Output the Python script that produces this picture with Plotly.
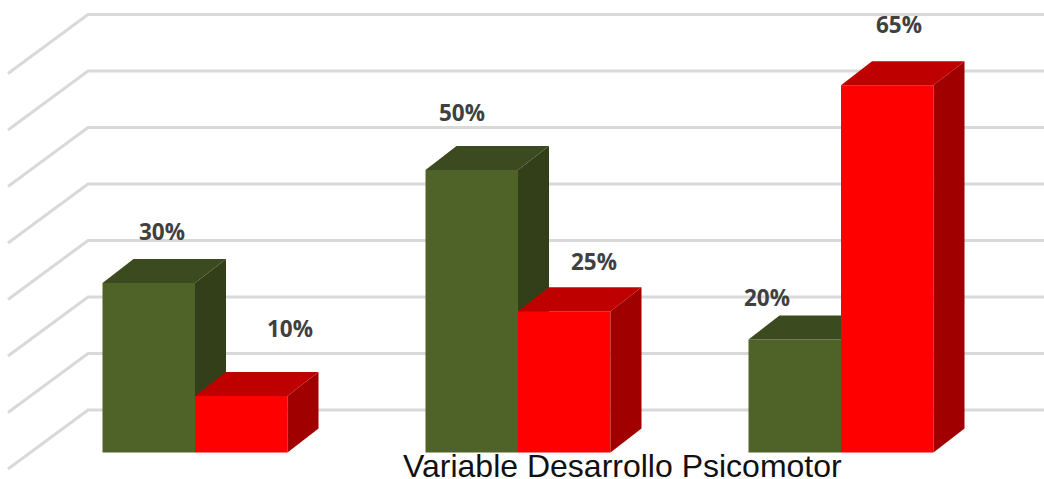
import plotly.graph_objects as go

categories = ["Grupo 1", "Grupo 2", "Grupo 3"]
green_values = [30, 50, 20]
red_values = [10, 25, 65]
grid_values = [0, 10, 20, 30, 40, 50, 60, 70]
labels_green = ["30%", "50%", "20%"]
labels_red = ["10%", "25%", "65%"]

W, H = 1044, 479
PX = 5.65            # pixels per percentage point
Y0 = 452.5           # pixel row of the zero line
centers = [195, 518, 841]
BW = 92.5
DX, DY = 31, 24 / PX  # bar depth
WX, WY = 80, 59 / PX  # wall depth
BACK = 42.5 / PX

yr = [(Y0 - H) / PX, Y0 / PX]
fig = go.Figure()

# grid
for g in grid_values:
    yb = g + BACK
    fig.add_trace(go.Scatter(x=[8, 88, W], y=[yb - WY, yb, yb], mode="lines",
                             line=dict(color="#d9d9d9", width=3), hoverinfo="skip", showlegend=False))


def series(vals, off, front, top, side, ax, name):
    xs = [c + off for c in centers]
    fig.add_trace(go.Bar(x=xs, y=vals, width=BW, marker=dict(color=front, line_width=0), name=name,
                         xaxis=f"x{ax}", yaxis=f"y{ax}", showlegend=False))
    for x, v in zip(xs, vals):
        l, r = x - BW / 2, x + BW / 2
        fig.add_trace(go.Scatter(x=[r, r + DX, r + DX, r, r], y=[0, DY, v + DY, v, 0], fill="toself", mode="none",
                                 fillcolor=side, xaxis=f"x{ax}", yaxis=f"y{ax}", showlegend=False, hoverinfo="skip"))
        fig.add_trace(go.Scatter(x=[l, l + DX, r + DX, r, l], y=[v, v + DY, v + DY, v, v], fill="toself", mode="none",
                                 fillcolor=top, xaxis=f"x{ax}", yaxis=f"y{ax}", showlegend=False, hoverinfo="skip"))


series(green_values, -BW / 2, "#4f6228", "#3c4b1f", "#323f18", 2, "Verde")
series(red_values, BW / 2, "#ff0000", "#bf0000", "#a00000", 3, "Rojo")

# labels
lab_x = [162, 462, 767, 290, 594, 899]
lab_y = [39.1, 60.25, 27.5, 21.9, 33.75, 75.8]
for x, y, t in zip(lab_x, lab_y, labels_green + labels_red):
    fig.add_annotation(x=x, y=y, text=f"<b>{t}</b>", showarrow=False,
                       font=dict(family="Open Sans", size=22.5, color="#404040"))
fig.add_annotation(x=622, y=(Y0 - 465) / PX, text="Variable Desarrollo Psicomotor", showarrow=False, height=27,
                   font=dict(family="Liberation Sans", size=32, color="#111111"))

ax = dict(visible=False, range=[0, W], fixedrange=True)
ay = dict(visible=False, range=yr, fixedrange=True)
fig.update_layout(width=W, height=H, margin=dict(l=0, r=0, t=0, b=0), paper_bgcolor="white", plot_bgcolor="white",
                  barmode="overlay", showlegend=False,
                  xaxis=ax, yaxis=ay,
                  xaxis2=dict(ax, overlaying="x"), yaxis2=dict(ay, overlaying="y"),
                  xaxis3=dict(ax, overlaying="x"), yaxis3=dict(ay, overlaying="y"))
fig.write_html("out.html", config=dict(displayModeBar=False, responsive=False),
               post_script="document.body.style.margin='0';document.body.style.overflow='hidden';")
